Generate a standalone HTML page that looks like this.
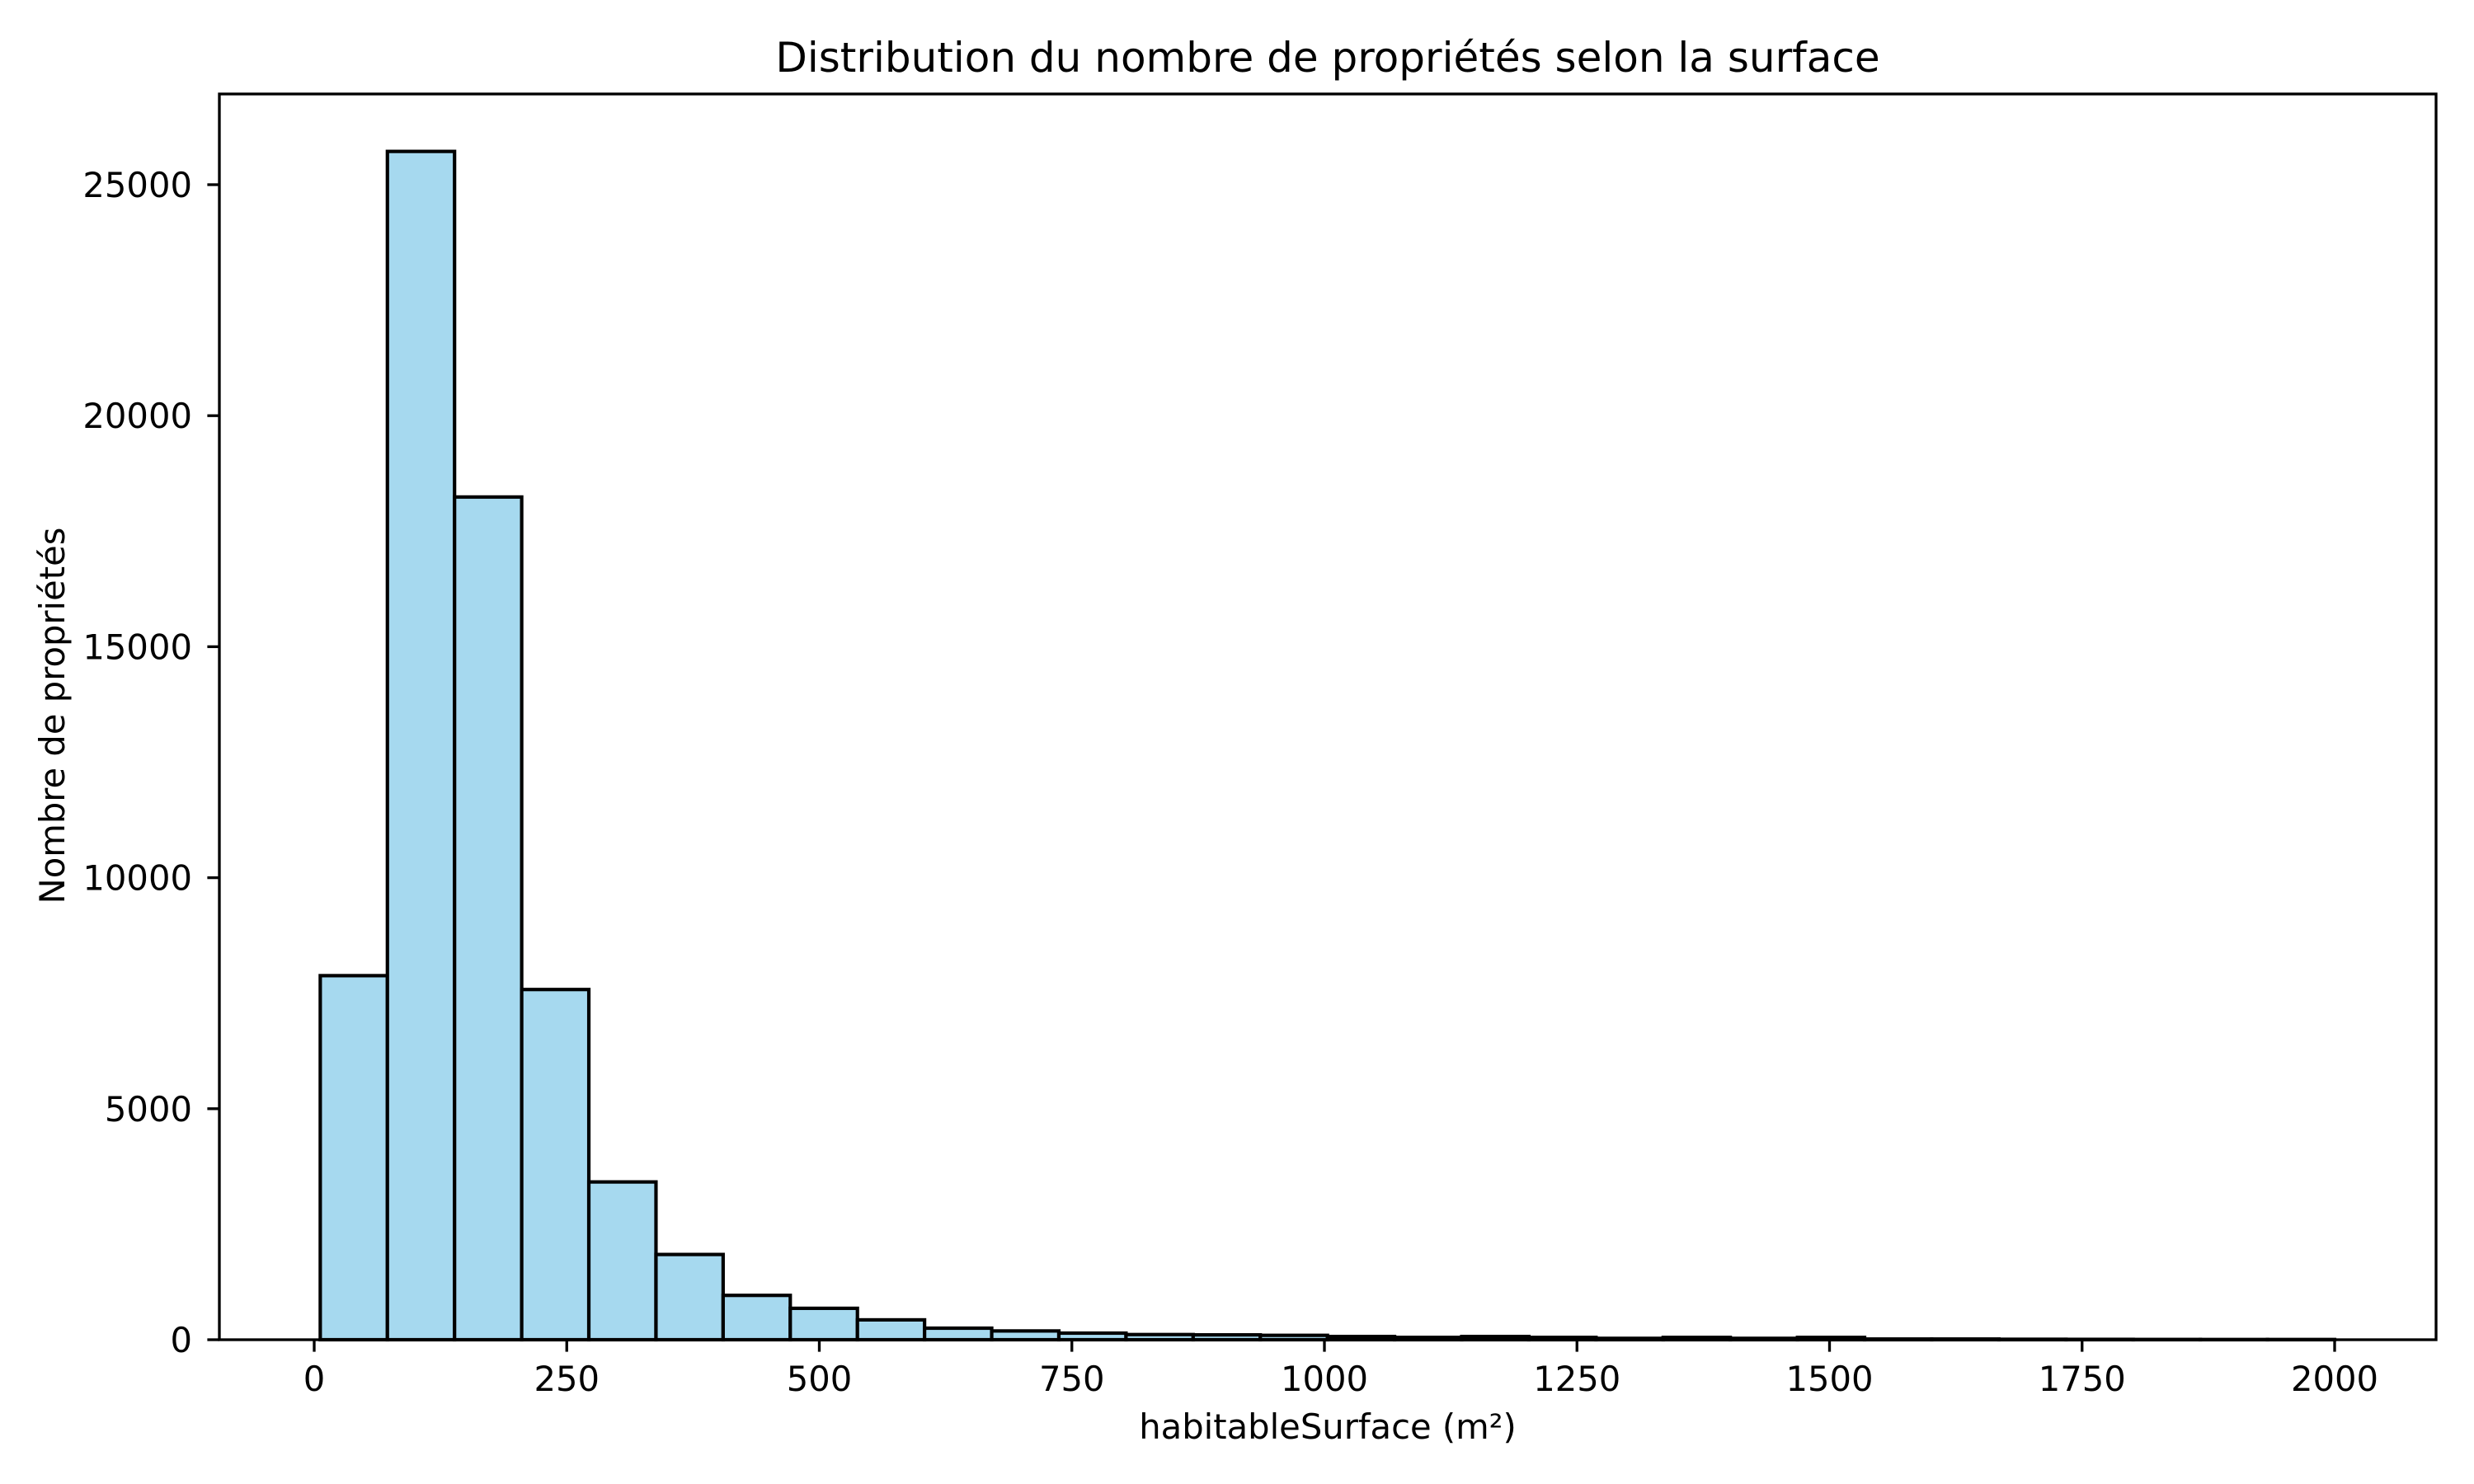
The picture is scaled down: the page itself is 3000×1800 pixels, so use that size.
<!DOCTYPE html>
<html><head><meta charset="utf-8"><style>
html,body{margin:0;padding:0;background:#fff;}
svg{display:block;font-family:"DejaVu Sans","Liberation Sans",sans-serif;}
</style></head><body>
<svg id="chart" width="3000" height="1800" viewBox="0 0 3000 1800" xmlns="http://www.w3.org/2000/svg">
<rect x="0" y="0" width="3000" height="1800" fill="#fff"/>
<g id="bars"></g>
<g id="axes"></g>
<text x="1610" y="87" font-size="50" text-anchor="middle">Distribution du nombre de propriétés selon la surface</text>
<text x="1610" y="1745" font-size="41.7" text-anchor="middle">habitableSurface (m²)</text>
<text x="78" y="868" font-size="41.7" text-anchor="middle" transform="rotate(-90 78 868)">Nombre de propriétés</text>
</svg>
<script>
const binStart = 6;
const binEnd = 2000;
const counts = [7880, 25720, 18240, 7580, 3415, 1845, 960, 680, 430, 250, 190, 143, 112, 105, 95, 70, 50, 70, 50, 30, 50, 30, 50, 15, 15, 10, 8, 6, 5, 5];
const xTicks = [0, 250, 500, 750, 1000, 1250, 1500, 1750, 2000];
const yTicks = [0, 5000, 10000, 15000, 20000, 25000];

const L = 266, R = 2954, T = 114, B = 1625;
function xs(v){ return 381 + v * (2831 - 381) / 2000; }
function ys(v){ return B - v * (B - 224) / 25000; }
const NS = "http://www.w3.org/2000/svg";
const barsG = document.getElementById('bars');
const axesG = document.getElementById('axes');
const w = (binEnd - binStart) / counts.length;
counts.forEach((c, i) => {
  const x0 = xs(binStart + i * w), x1 = xs(binStart + (i + 1) * w);
  const r = document.createElementNS(NS, 'rect');
  r.setAttribute('x', x0); r.setAttribute('y', ys(c));
  r.setAttribute('width', x1 - x0); r.setAttribute('height', B - ys(c));
  r.setAttribute('fill', '#a6d9ef'); r.setAttribute('stroke', '#000'); r.setAttribute('stroke-width', '4.17');
  
  
  barsG.appendChild(r);
});
const frame = document.createElementNS(NS, 'rect');
frame.setAttribute('x', L); frame.setAttribute('y', T);
frame.setAttribute('width', R - L); frame.setAttribute('height', B - T);
frame.setAttribute('fill', 'none'); frame.setAttribute('stroke', '#000'); frame.setAttribute('stroke-width', '3.33');


axesG.appendChild(frame);
xTicks.forEach(t => {
  const x = xs(t);
  const l = document.createElementNS(NS, 'line');
  l.setAttribute('x1', x); l.setAttribute('x2', x); l.setAttribute('y1', B); l.setAttribute('y2', B + 14.6);
  l.setAttribute('stroke', '#000'); l.setAttribute('stroke-width', '3.33');
  
  
  axesG.appendChild(l);
  const tx = document.createElementNS(NS, 'text');
  tx.setAttribute('x', x); tx.setAttribute('y', 1687); tx.setAttribute('font-size', '41.7'); tx.setAttribute('text-anchor', 'middle');
  tx.textContent = t;
  
  
  axesG.appendChild(tx);
});
yTicks.forEach(t => {
  const y = ys(t);
  const l = document.createElementNS(NS, 'line');
  l.setAttribute('x1', L - 14.6); l.setAttribute('x2', L); l.setAttribute('y1', y); l.setAttribute('y2', y);
  l.setAttribute('stroke', '#000'); l.setAttribute('stroke-width', '3.33');
  
  
  axesG.appendChild(l);
  const tx = document.createElementNS(NS, 'text');
  tx.setAttribute('x', 233); tx.setAttribute('y', y + 15); tx.setAttribute('font-size', '41.7'); tx.setAttribute('text-anchor', 'end');
  tx.textContent = t;
  
  
  axesG.appendChild(tx);
});
</script>
</body></html>
